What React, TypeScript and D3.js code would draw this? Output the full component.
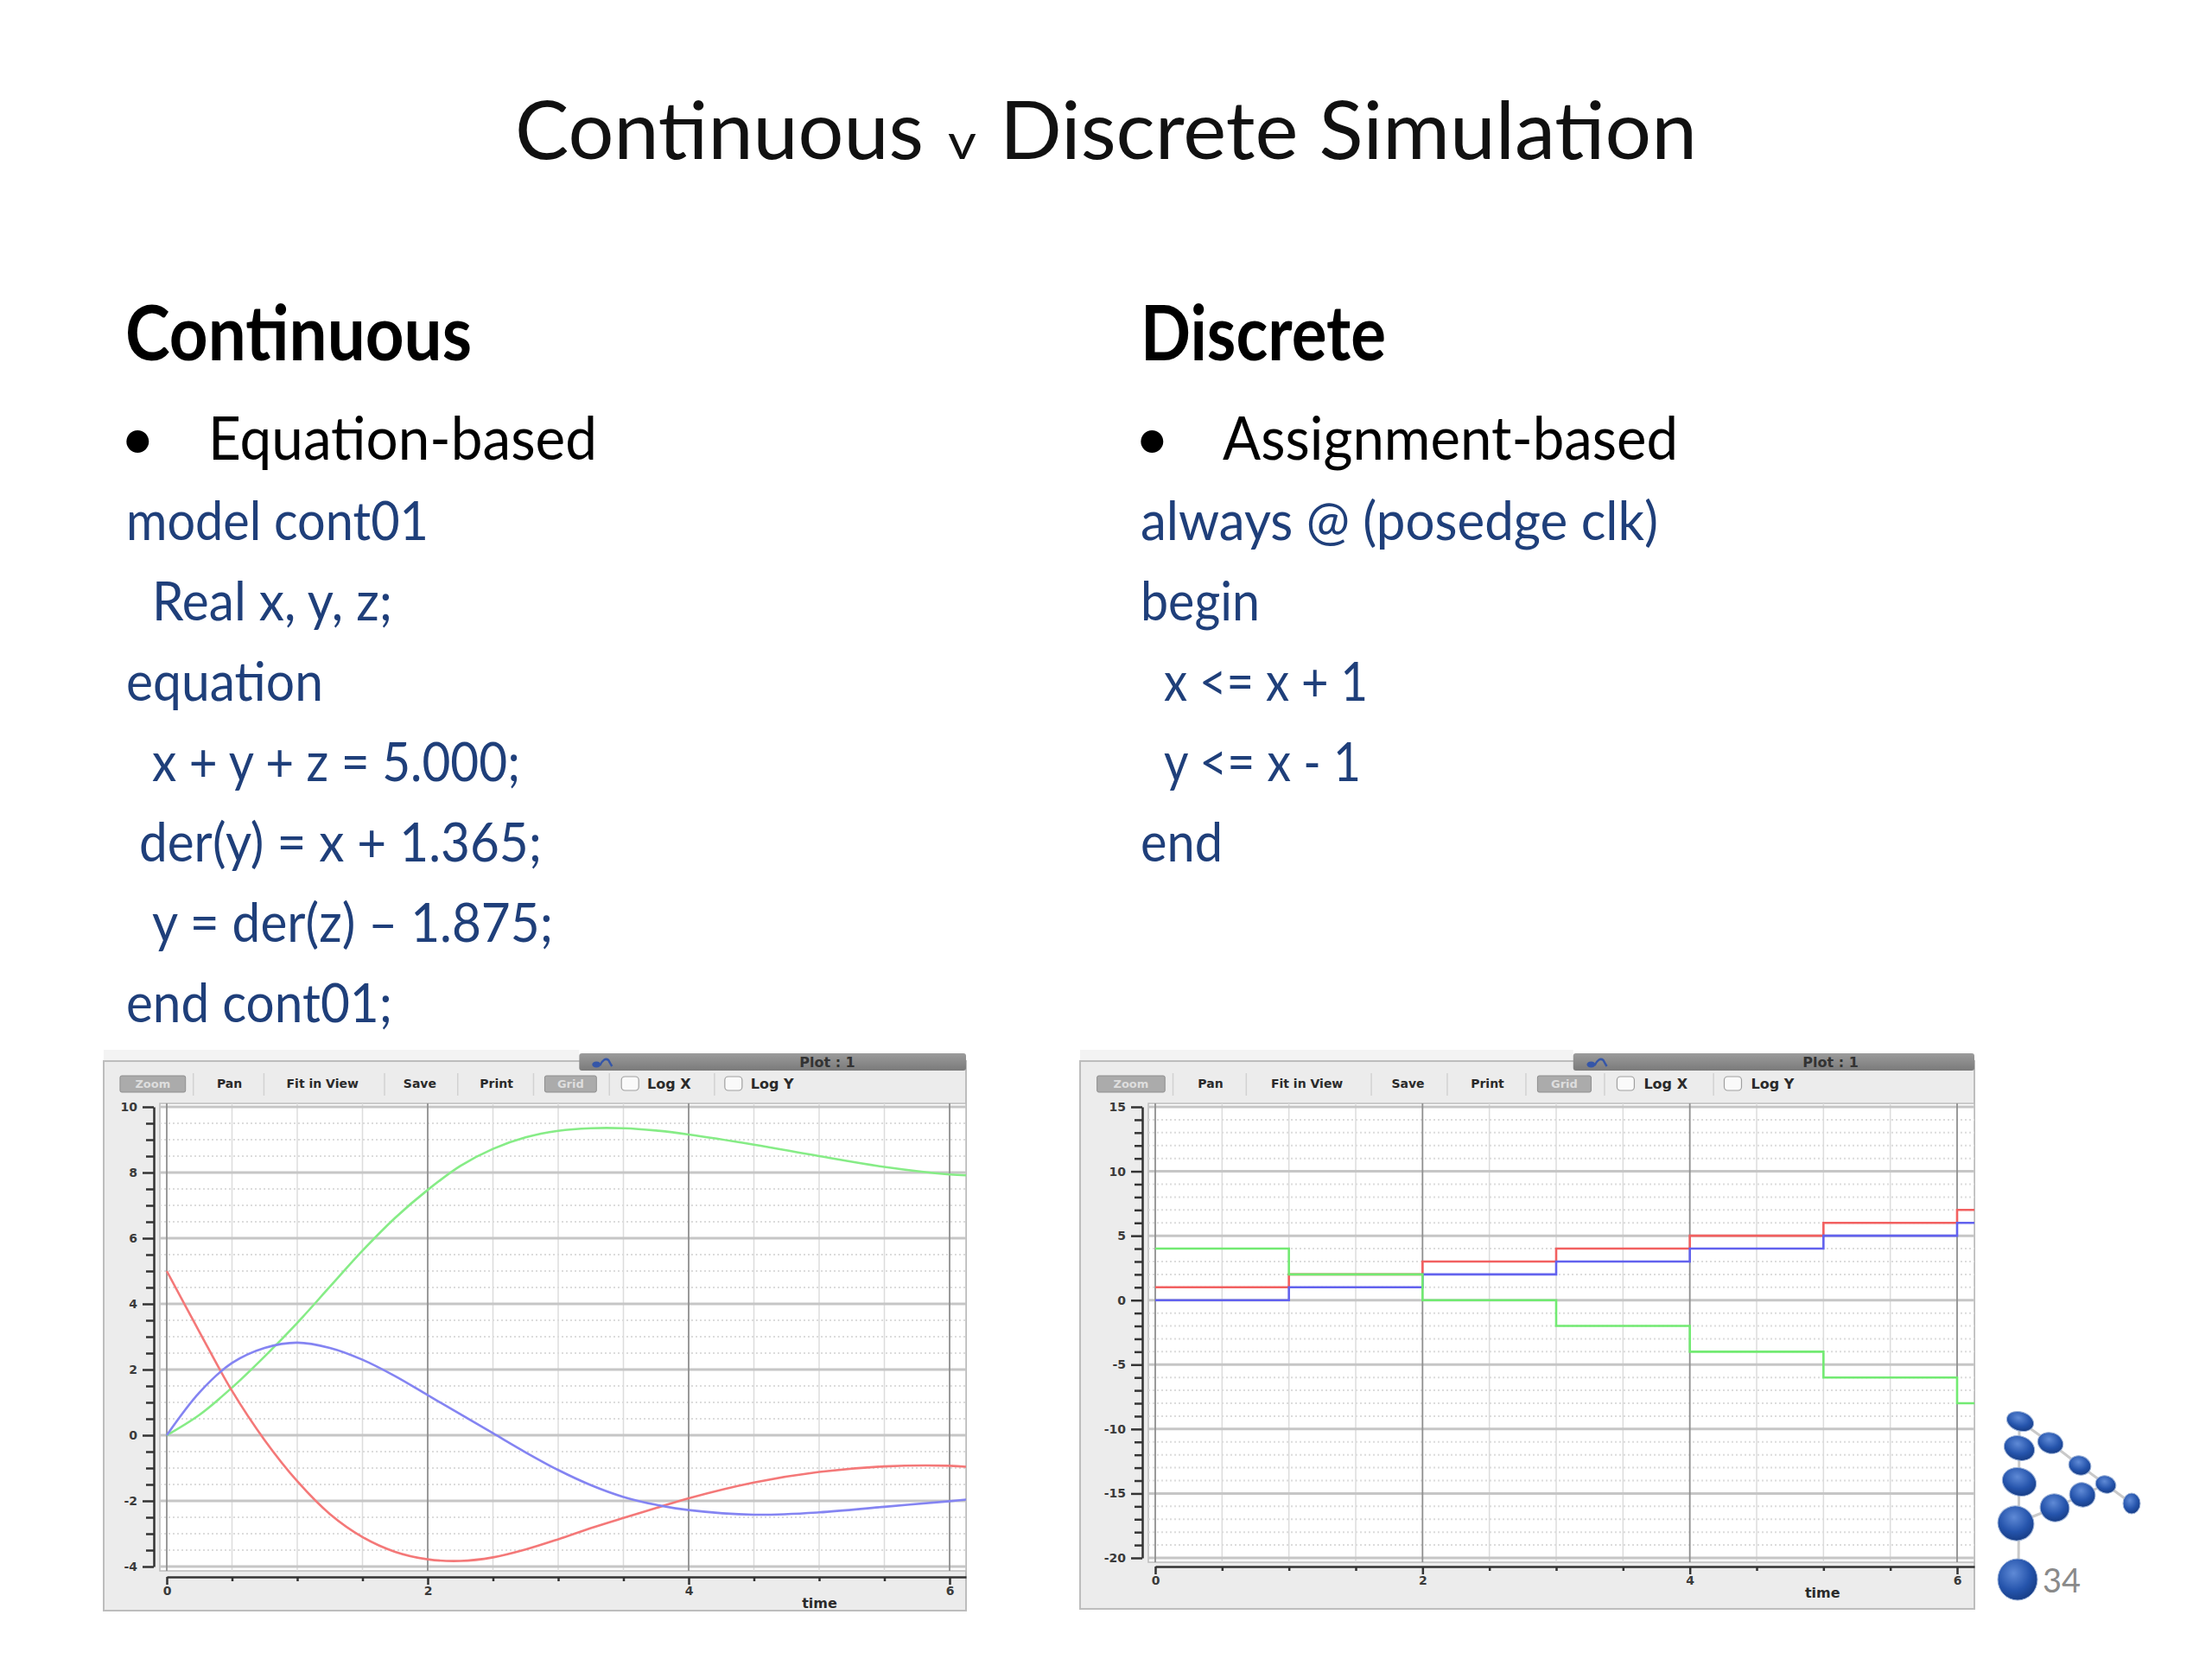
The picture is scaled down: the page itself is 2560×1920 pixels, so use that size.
import { useEffect, useRef } from 'react';
import * as d3 from 'd3';

// cont01 run (time, then x / y / z)
const CONT_TIME = [0, 0.25, 0.5, 0.75, 1, 1.25, 1.5, 1.75, 2, 2.25, 2.5, 2.75, 3, 3.25, 3.5, 3.75, 4, 4.5, 5, 5.5, 6, 6.15];
const CONT_RED = [5, 3.15, 1.35, -0.15, -1.4, -2.4, -3.1, -3.55, -3.78, -3.83, -3.72, -3.48, -3.17, -2.83, -2.52, -2.22, -1.92, -1.44, -1.12, -0.95, -0.93, -0.97];
const CONT_GREEN = [0, 0.62, 1.45, 2.4, 3.42, 4.52, 5.62, 6.62, 7.47, 8.2, 8.72, 9.07, 9.27, 9.35, 9.35, 9.28, 9.16, 8.85, 8.5, 8.17, 7.94, 7.91];
const CONT_BLUE = [0, 1.3, 2.2, 2.66, 2.82, 2.66, 2.3, 1.8, 1.22, 0.64, 0.06, -0.52, -1.06, -1.52, -1.88, -2.12, -2.28, -2.42, -2.35, -2.18, -2.01, -1.95];

// discrete run, one step per clock edge
const DISC_TIME = [0, 1, 2, 3, 4, 5, 6];
const DISC_RED = [1, 2, 3, 4, 5, 6, 7];
const DISC_BLUE = [0, 1, 2, 3, 4, 5, 6];
const DISC_GREEN = [4, 2, 0, -2, -4, -6, -8];

const CONT_Y_DOMAIN: [number, number] = [-4, 10];
const DISC_Y_DOMAIN: [number, number] = [-20, 15];
const TIME_DOMAIN: [number, number] = [0, 6];

const TOOLBAR = [
  { label: 'Pan', cx: 146 },
  { label: 'Fit in View', cx: 254 },
  { label: 'Save', cx: 367 },
  { label: 'Print', cx: 456 },
];
const TOOLBAR_SEPS = [104, 186, 326, 411, 499, 587, 709];

const LEFT_CODE = ['model cont01', 'Real x, y, z;', 'equation', 'x + y + z = 5.000;', 'der(y) = x + 1.365;', 'y = der(z) \u2013 1.875;', 'end cont01;'];
const LEFT_CODE_X = [146, 176, 146, 176, 161, 176, 146];
const LEFT_CODE_W = [350, 278, 228, 426, 466, 464, 308];
const RIGHT_CODE = ['always @ (posedge clk)', 'begin', 'x <= x + 1', 'y <= x - 1', 'end'];
const RIGHT_CODE_X = [1320, 1320, 1347, 1347, 1320];
const RIGHT_CODE_W = [599, 138, 236, 228, 95];

const CODE_BLUE = '#1f3f7a';
const SANS = 'Lato, "Open Sans", sans-serif';
const UI = '"DejaVu Sans", sans-serif';

interface Series { time: number[]; values: number[]; color: string; step?: boolean }
interface PlotCfg {
  frame: { x: number; y: number; x2: number; y2: number };
  xRange: [number, number];
  yDomain: [number, number];
  yRange: [number, number];
  yMajor: number;
  yMinor: number;
  axisGap: number;
  series: Series[];
}

function SimPlot({ cfg }: { cfg: PlotCfg }) {
  const ref = useRef<SVGGElement>(null);

  useEffect(() => {
    if (!ref.current) return;
    const g = d3.select(ref.current);
    g.selectAll('*').remove();

    const { frame } = cfg;
    const x0 = d3.scaleLinear().domain(TIME_DOMAIN).range(cfg.xRange);
    const tEnd = x0.invert(frame.x2);
    const x = d3.scaleLinear().domain([0, tEnd]).range([cfg.xRange[0], frame.x2]);
    const y = d3.scaleLinear().domain(cfg.yDomain).range(cfg.yRange);
    const k = (frame.x2 - frame.x) / 1001;
    const fx = (d: number) => frame.x + d * k;

    const plotTop = cfg.yRange[1] - 4;
    const plotBot = cfg.yRange[0] + 5;
    const plotLeft = x(0) - 8;
    const axisY = cfg.yRange[0] + cfg.axisGap;

    // window body
    g.append('rect').attr('x', frame.x).attr('y', frame.y - 13).attr('width', fx(552) - frame.x).attr('height', 13).attr('fill', '#f3f3f3');
    g.append('rect')
      .attr('x', frame.x).attr('y', frame.y)
      .attr('width', frame.x2 - frame.x).attr('height', frame.y2 - frame.y)
      .attr('fill', '#ececec').attr('stroke', '#bdbdbd').attr('stroke-width', 2);

    // title bar
    const grad = `tb-${Math.round(frame.x)}`;
    const defs = g.append('defs');
    const lg = defs.append('linearGradient').attr('id', grad).attr('x1', 0).attr('y1', 0).attr('x2', 0).attr('y2', 1);
    lg.append('stop').attr('offset', 0).attr('stop-color', '#9c9c9c');
    lg.append('stop').attr('offset', 1).attr('stop-color', '#7a7a7a');
    g.append('rect')
      .attr('x', fx(552)).attr('y', frame.y - 9)
      .attr('width', frame.x2 - fx(552)).attr('height', 20).attr('rx', 3)
      .attr('fill', `url(#${grad})`);
    g.append('ellipse').attr('cx', fx(572)).attr('cy', frame.y + 4).attr('rx', 5).attr('ry', 3.5).attr('fill', '#3556a8');
    g.append('path')
      .attr('d', `M${fx(576)},${frame.y + 5} q5,-10 10,-6 q2,4 4,7`)
      .attr('fill', 'none').attr('stroke', '#3556a8').attr('stroke-width', 2.5);
    g.append('text')
      .attr('x', fx(840)).attr('y', frame.y + 7)
      .attr('text-anchor', 'middle').attr('font-family', UI).attr('font-weight', 700).attr('font-size', 16)
      .attr('fill', '#333').text('Plot : 1');

    // toolbar
    const btn = (bx: number, bw: number, label: string) => {
      g.append('rect')
        .attr('x', fx(bx)).attr('y', frame.y + 17).attr('width', bw * k).attr('height', 19).attr('rx', 2)
        .attr('fill', '#ababab').attr('stroke', '#8e8e8e').attr('stroke-width', 1);
      g.append('text')
        .attr('x', fx(bx + bw / 2)).attr('y', frame.y + 31)
        .attr('text-anchor', 'middle').attr('font-family', UI).attr('font-weight', 700).attr('font-size', 13)
        .attr('fill', '#dedede').text(label);
    };
    btn(19, 76, 'Zoom');
    btn(512, 60, 'Grid');
    TOOLBAR_SEPS.forEach((s) => {
      g.append('line')
        .attr('x1', fx(s)).attr('x2', fx(s)).attr('y1', frame.y + 14).attr('y2', frame.y + 40)
        .attr('stroke', '#d2d2d2').attr('stroke-width', 1.5);
    });
    TOOLBAR.forEach((b) => {
      g.append('text')
        .attr('x', fx(b.cx)).attr('y', frame.y + 31)
        .attr('text-anchor', 'middle').attr('font-family', UI).attr('font-weight', 700).attr('font-size', 14)
        .attr('fill', '#2a2a2a').text(b.label);
    });
    [{ bx: 601, label: 'Log X' }, { bx: 721, label: 'Log Y' }].forEach((c) => {
      g.append('rect')
        .attr('x', fx(c.bx)).attr('y', frame.y + 18).attr('width', 20).attr('height', 16).attr('rx', 4)
        .attr('fill', '#fafafa').attr('stroke', '#a0a0a0').attr('stroke-width', 1.2);
      g.append('text')
        .attr('x', fx(c.bx + 30)).attr('y', frame.y + 32)
        .attr('font-family', UI).attr('font-weight', 700).attr('font-size', 16)
        .attr('fill', '#2a2a2a').text(c.label);
    });

    // plot area
    g.append('rect')
      .attr('x', plotLeft).attr('y', plotTop)
      .attr('width', frame.x2 - plotLeft).attr('height', plotBot - plotTop)
      .attr('fill', '#ffffff').attr('stroke', '#bcbcbc').attr('stroke-width', 1.5);

    const clip = `clip-${Math.round(frame.x)}`;
    defs.append('clipPath').attr('id', clip)
      .append('rect').attr('x', plotLeft).attr('y', plotTop - 2).attr('width', frame.x2 - plotLeft).attr('height', plotBot - plotTop + 4);
    const pg = g.append('g').attr('clip-path', `url(#${clip})`);

    const xMajor = x0.ticks(3);
    const xMinor = x.ticks(12).filter((t) => !xMajor.includes(t));
    const yMajor = y.ticks(cfg.yMajor);
    const yMinor = y.ticks(cfg.yMinor).filter((v) => !yMajor.includes(v));

    pg.selectAll('.hmin').data(yMinor).join('line')
      .attr('x1', plotLeft).attr('x2', frame.x2).attr('y1', (d) => y(d)).attr('y2', (d) => y(d))
      .attr('stroke', '#dcdcdc').attr('stroke-width', 2).attr('stroke-dasharray', '2 3');
    pg.selectAll('.vmin').data(xMinor).join('line')
      .attr('x1', (d) => x(d)).attr('x2', (d) => x(d)).attr('y1', plotTop).attr('y2', plotBot)
      .attr('stroke', '#dcdcdc').attr('stroke-width', 1.5);
    pg.selectAll('.hmaj').data(yMajor).join('line')
      .attr('x1', plotLeft).attr('x2', frame.x2).attr('y1', (d) => y(d)).attr('y2', (d) => y(d))
      .attr('stroke', '#c6c6c6').attr('stroke-width', 3);
    pg.selectAll('.vmaj').data(xMajor).join('line')
      .attr('x1', (d) => x(d)).attr('x2', (d) => x(d)).attr('y1', plotTop).attr('y2', plotBot)
      .attr('stroke', '#8f8f8f').attr('stroke-width', 1.8);

    // curves
    cfg.series.forEach((s) => {
      const tt = s.step ? [...s.time, tEnd] : s.time;
      const vv = s.step ? [...s.values, s.values[s.values.length - 1]] : s.values;
      const line = d3.line<number>()
        .x((_, i) => x(tt[i]))
        .y((d) => y(d))
        .curve(s.step ? d3.curveStepAfter : d3.curveCatmullRom);
      pg.append('path')
        .attr('d', line(vv))
        .attr('fill', 'none').attr('stroke', s.color).attr('stroke-width', 2.6);
    });

    // y axis
    const yAxisX = x(0) - 15;
    const ya = g.append('g').attr('transform', `translate(${yAxisX},0)`);
    ya.call(d3.axisLeft(y).tickValues(yMajor).tickSize(13).tickSizeOuter(0).tickPadding(6).tickFormat((d) => String(d)));
    ya.select('.domain').attr('stroke', '#333').attr('stroke-width', 2.5);
    ya.selectAll('.tick line').attr('stroke', '#333').attr('stroke-width', 2.5);
    ya.selectAll('text').attr('font-family', UI).attr('font-weight', 700).attr('font-size', 14).attr('fill', '#3a3a3a');
    const yam = g.append('g').attr('transform', `translate(${yAxisX},0)`);
    yam.call(d3.axisLeft(y).tickValues(yMinor).tickSize(9).tickFormat(() => ''));
    yam.select('.domain').remove();
    yam.selectAll('.tick line').attr('stroke', '#333').attr('stroke-width', 2.5);

    // time axis
    const xa = g.append('g').attr('transform', `translate(0,${axisY})`);
    xa.call(d3.axisBottom(x).tickValues(xMajor).tickSize(9).tickSizeOuter(0).tickPadding(2).tickFormat((d) => String(d)));
    xa.select('.domain').attr('stroke', '#333').attr('stroke-width', 2.5);
    xa.selectAll('.tick line').attr('stroke', '#333').attr('stroke-width', 2.5);
    xa.selectAll('text').attr('font-family', UI).attr('font-weight', 700).attr('font-size', 14).attr('fill', '#3a3a3a');
    const xam = g.append('g').attr('transform', `translate(0,${axisY})`);
    xam.call(d3.axisBottom(x).tickValues(xMinor).tickSize(5).tickFormat(() => ''));
    xam.select('.domain').remove();
    xam.selectAll('.tick line').attr('stroke', '#333').attr('stroke-width', 2.5);

    g.append('text')
      .attr('x', fx(831)).attr('y', axisY + 36)
      .attr('text-anchor', 'middle').attr('font-family', UI).attr('font-weight', 700).attr('font-size', 16)
      .attr('fill', '#2a2a2a').text('time');
  }, [cfg]);

  return <g ref={ref} />;
}

const LEFT_PLOT: PlotCfg = {
  frame: { x: 120, y: 1228, x2: 1118, y2: 1864 },
  xRange: [193, 1099],
  yDomain: CONT_Y_DOMAIN,
  yRange: [1813, 1281],
  yMajor: 7,
  yMinor: 28,
  axisGap: 12,
  series: [
    { time: CONT_TIME, values: CONT_GREEN, color: '#86ec86' },
    { time: CONT_TIME, values: CONT_RED, color: '#f47878' },
    { time: CONT_TIME, values: CONT_BLUE, color: '#8484f2' },
  ],
};

const RIGHT_PLOT: PlotCfg = {
  frame: { x: 1250, y: 1228, x2: 2285, y2: 1862 },
  xRange: [1337, 2265],
  yDomain: DISC_Y_DOMAIN,
  yRange: [1803, 1281],
  yMajor: 7,
  yMinor: 35,
  axisGap: 10,
  series: [
    { time: DISC_TIME, values: DISC_RED, color: '#f26060', step: true },
    { time: DISC_TIME, values: DISC_BLUE, color: '#6262ee', step: true },
    { time: DISC_TIME, values: DISC_GREEN, color: '#72ea72', step: true },
  ],
};

const BALLS = [
  { cx: 2338, cy: 1645, rx: 16, ry: 11 },
  { cx: 2373, cy: 1670, rx: 15, ry: 12 },
  { cx: 2407, cy: 1696, rx: 13, ry: 11 },
  { cx: 2437, cy: 1718, rx: 12, ry: 10 },
  { cx: 2467, cy: 1740, rx: 10, ry: 12 },
  { cx: 2337, cy: 1676, rx: 18, ry: 14 },
  { cx: 2337, cy: 1715, rx: 20, ry: 16 },
  { cx: 2410, cy: 1730, rx: 15, ry: 14 },
  { cx: 2378, cy: 1745, rx: 17, ry: 16 },
  { cx: 2333, cy: 1763, rx: 21, ry: 20 },
  { cx: 2335, cy: 1828, rx: 23, ry: 24 },
];

function Logo() {
  return (
    <g>
      <defs>
        <radialGradient id="ball" cx="0.4" cy="0.35" r="0.7">
          <stop offset="0" stopColor="#5f8ad6" />
          <stop offset="0.6" stopColor="#2554ac" />
          <stop offset="1" stopColor="#163b82" />
        </radialGradient>
      </defs>
      <g stroke="#c9c9c9" strokeWidth={3} fill="none">
        <line x1={2337} y1={1645} x2={2336} y2={1828} />
        <polyline points="2338,1645 2373,1670 2407,1696 2437,1718 2467,1740" />
        <polyline points="2333,1763 2378,1745 2410,1730 2437,1718" />
      </g>
      {BALLS.map((b, i) => (
        <ellipse key={i} cx={b.cx} cy={b.cy} rx={b.rx} ry={b.ry} fill="url(#ball)"
          stroke="#9fb4d8" strokeWidth={1}
          transform={b.rx > b.ry ? `rotate(18 ${b.cx} ${b.cy})` : undefined} />
      ))}
      <text x={2364} y={1843} fontFamily={SANS} fontSize={38} fill="#8a8a8a">34</text>
    </g>
  );
}

export default function App() {
  return (
    <svg width={2560} height={1920} viewBox="0 0 2560 1920"
      style={{ position: 'absolute', left: 0, top: 0, background: '#ffffff' }}>
      <rect x={0} y={0} width={2560} height={1920} fill="#ffffff" />

      {/* slide title */}
      <g fontFamily={SANS} fill="#111">
        <text x={596} y={184} fontSize={94} textLength={473} lengthAdjust="spacingAndGlyphs">Continuous</text>
        <text x={1097} y={184} fontSize={56} textLength={33} lengthAdjust="spacingAndGlyphs">v</text>
        <text x={1157} y={184} fontSize={94} textLength={807} lengthAdjust="spacingAndGlyphs">Discrete Simulation</text>
      </g>

      {/* column headings */}
      <g fontFamily={SANS} fontWeight={700} fill="#000" fontSize={88}>
        <text x={145} y={417} textLength={401} lengthAdjust="spacingAndGlyphs">Continuous</text>
        <text x={1320} y={417} textLength={284} lengthAdjust="spacingAndGlyphs">Discrete</text>
      </g>
      <g fontFamily={SANS} fill="#000" fontSize={70}>
        <text x={139} y={532}>•</text>
        <text x={241} y={532} textLength={450} lengthAdjust="spacingAndGlyphs">Equation-based</text>
        <text x={1313} y={532}>•</text>
        <text x={1415} y={532} textLength={527} lengthAdjust="spacingAndGlyphs">Assignment-based</text>
      </g>

      {/* code */}
      <g fontFamily={SANS} fill={CODE_BLUE} fontSize={62}>
        {LEFT_CODE.map((line, i) => (
          <text key={line} x={LEFT_CODE_X[i]} y={625 + i * 93} textLength={LEFT_CODE_W[i]} lengthAdjust="spacingAndGlyphs">{line}</text>
        ))}
        {RIGHT_CODE.map((line, i) => (
          <text key={line} x={RIGHT_CODE_X[i]} y={625 + i * 93} textLength={RIGHT_CODE_W[i]} lengthAdjust="spacingAndGlyphs">{line}</text>
        ))}
      </g>

      <SimPlot cfg={LEFT_PLOT} />
      <SimPlot cfg={RIGHT_PLOT} />
      <Logo />
    </svg>
  );
}
